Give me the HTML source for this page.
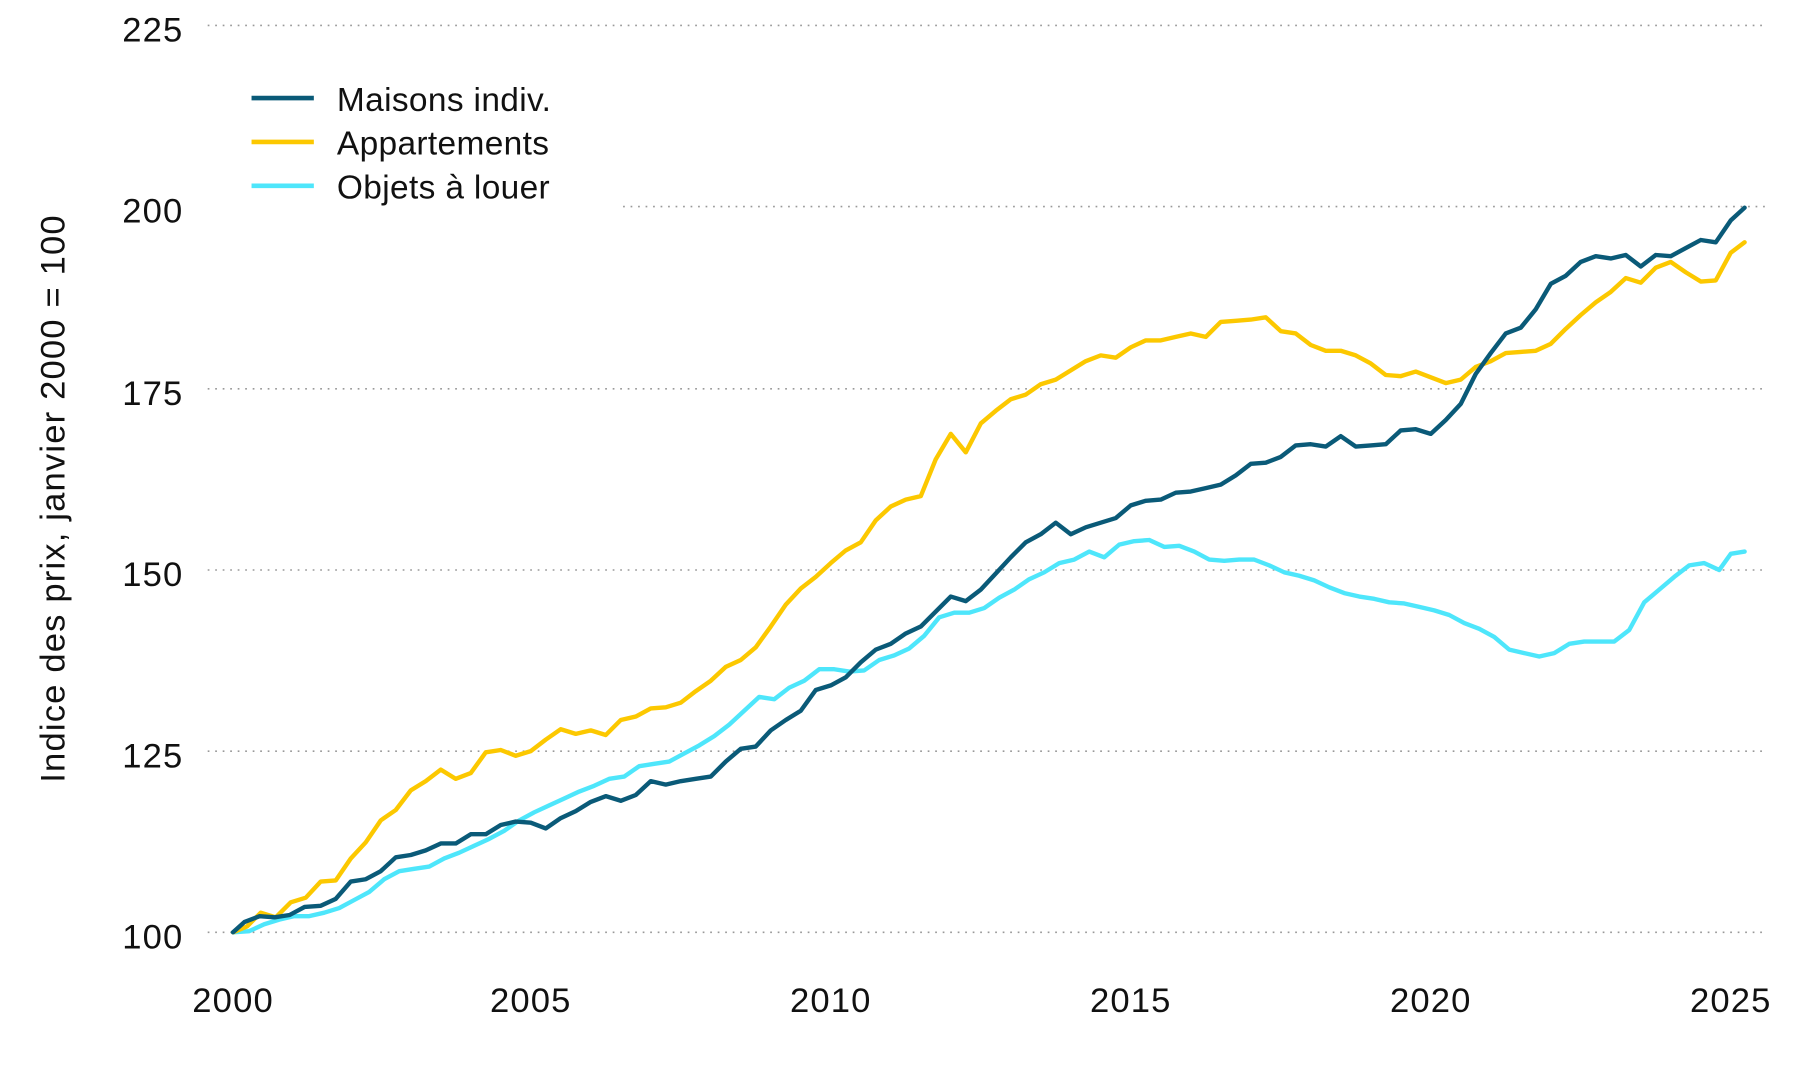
<!DOCTYPE html>
<html><head><meta charset="utf-8"><style>
html,body{margin:0;padding:0;background:#fff;}
svg{display:block;}
text{font-family:"Liberation Sans",sans-serif;fill:#111;}
</style></head><body>
<svg width="1800" height="1080" viewBox="0 0 1560 936" xmlns="http://www.w3.org/2000/svg">
<g stroke="#999" stroke-width="1.4" stroke-dasharray="1.5 5">
<line x1="180" y1="22" x2="1530" y2="22"/>
<line x1="540" y1="179" x2="1530" y2="179"/>
<line x1="180" y1="337" x2="1530" y2="337"/>
<line x1="180" y1="494" x2="1530" y2="494"/>
<line x1="180" y1="651" x2="1530" y2="651"/>
<line x1="180" y1="808" x2="1530" y2="808"/>
</g>
<g font-size="30" text-anchor="end" letter-spacing="1">
<text x="159" y="36">225</text>
<text x="159" y="193">200</text>
<text x="159" y="351">175</text>
<text x="159" y="508">150</text>
<text x="159" y="665">125</text>
<text x="159" y="822">100</text>
</g>
<g font-size="30" text-anchor="middle" letter-spacing="1">
<text x="202" y="877">2000</text>
<text x="460" y="877">2005</text>
<text x="720" y="877">2010</text>
<text x="980" y="877">2015</text>
<text x="1240" y="877">2020</text>
<text x="1500" y="877">2025</text>
</g>
<text font-size="30" text-anchor="middle" letter-spacing="1" transform="translate(56,432) rotate(-90)">Indice des prix, janvier 2000 = 100</text>
<g fill="none" stroke-width="3.8" stroke-linejoin="round" stroke-linecap="round">
<polyline stroke="#4ee6fb" points="202,808 216,807 229,801 242,797 255,794 268,794 281,791 294,787 307,780 320,773 333,762 346,755 359,753 372,751 385,744 398,739 411,733 424,727 437,720 450,711 463,704 476,698 489,692 502,686 515,681 528,675 541,673 554,664 567,662 580,660 593,653 606,646 619,638 632,628 645,616 658,604 671,606 684,596 697,590 710,580 723,580 736,582 749,581 762,572 775,568 788,562 801,551 814,535 827,531 840,531 853,527 866,518 879,511 892,502 905,496 918,488 931,485 944,478 957,483 970,472 983,469 996,468 1009,474 1022,473 1035,478 1048,485 1061,486 1074,485 1087,485 1100,490 1113,496 1126,499 1139,503 1152,509 1165,514 1178,517 1191,519 1204,522 1217,523 1230,526 1243,529 1256,533 1269,540 1282,545 1295,552 1308,563 1321,566 1334,569 1347,566 1360,558 1373,556 1386,556 1399,556 1412,546 1425,522 1438,511 1451,500 1464,490 1477,488 1490,494 1500,480 1512,478"/>
<polyline stroke="#fcc800" points="202,808 214,803 226,791 239,795 252,782 265,778 278,764 291,763 304,744 317,730 330,711 343,702 356,685 369,677 382,667 395,675 408,670 421,652 434,650 447,655 460,651 473,641 486,632 499,636 512,633 525,637 538,624 551,621 564,614 577,613 590,609 603,599 616,590 629,578 642,572 655,561 668,543 681,524 694,510 707,500 720,488 733,477 746,470 759,451 772,439 785,433 798,430 811,398 824,376 837,392 850,367 863,356 876,346 889,342 902,333 915,329 928,321 941,313 954,308 967,310 980,301 993,295 1006,295 1019,292 1032,289 1045,292 1058,279 1071,278 1084,277 1097,275 1110,287 1123,289 1136,299 1149,304 1162,304 1175,308 1188,315 1201,325 1214,326 1227,322 1240,327 1253,332 1266,329 1279,318 1292,313 1305,306 1318,305 1331,304 1344,298 1357,285 1370,273 1383,262 1396,253 1409,241 1422,245 1435,232 1448,227 1461,236 1474,244 1487,243 1500,219 1512,210"/>
<polyline stroke="#0a5a78" points="202,808 212,799 225,794 238,795 251,793 264,786 278,785 291,779 304,764 317,762 330,755 343,743 356,741 369,737 382,731 395,731 408,723 421,723 434,715 447,712 460,713 473,718 486,709 499,703 512,695 525,690 538,694 551,689 564,677 577,680 590,677 603,675 616,673 629,660 642,649 655,647 668,633 681,624 694,616 707,598 720,594 733,587 746,574 759,563 772,558 785,549 798,543 811,530 824,517 837,521 850,511 863,497 876,483 889,470 902,463 915,453 928,463 941,457 954,453 967,449 980,438 993,434 1006,433 1019,427 1032,426 1045,423 1058,420 1071,412 1084,402 1097,401 1110,396 1123,386 1136,385 1149,387 1162,378 1175,387 1188,386 1201,385 1214,373 1227,372 1240,376 1253,364 1266,350 1279,324 1292,306 1305,289 1318,284 1331,268 1344,246 1357,239 1370,227 1383,222 1396,224 1409,221 1422,231 1435,221 1448,222 1461,215 1474,208 1487,210 1500,191 1512,180"/>
</g>
<g stroke-width="4">
<line x1="218" y1="85" x2="272" y2="85" stroke="#0a5a78"/>
<line x1="218" y1="123" x2="272" y2="123" stroke="#fcc800"/>
<line x1="218" y1="161" x2="272" y2="161" stroke="#4ee6fb"/>
</g>
<g font-size="29" letter-spacing="0.3">
<text x="292" y="96">Maisons indiv.</text>
<text x="292" y="134">Appartements</text>
<text x="292" y="172">Objets à louer</text>
</g>
</svg>
</body></html>
